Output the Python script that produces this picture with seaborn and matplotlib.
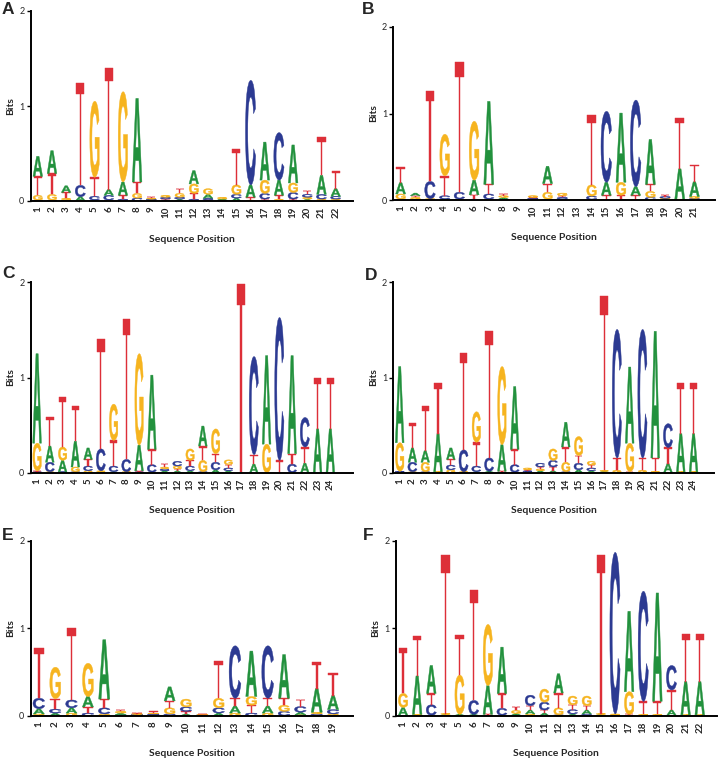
import numpy as np
import pandas as pd
import matplotlib
matplotlib.use("Agg")
from matplotlib import pyplot as plt
from matplotlib.textpath import TextPath
from matplotlib.patches import PathPatch
from matplotlib.font_manager import FontProperties
from matplotlib.transforms import Affine2D
import seaborn as sns

sns.set_style("ticks")
plt.rcParams['font.family'] = ['Lato', 'DejaVu Sans']

# information content (bits) of each base at each position, read off the logos
# panel A, 22 positions
pA_A = [0.21, 0.24, 0.07, 0.04, 0.01, 0.06, 0.14, 0.88, 0.01, 0.01, 0.02, 0.14, 0.04, 0.01, 0.03, 0.13, 0.40, 0.16, 0.40, 0.02, 0.20, 0.08]
pA_C = [0.01, 0.01, 0.01, 0.12, 0.04, 0.05, 0.02, 0.03, 0.01, 0.02, 0.02, 0.02, 0.02, 0.005, 0.04, 1.10, 0.06, 0.50, 0.07, 0.03, 0.05, 0.03]
pA_G = [0.05, 0.06, 0.02, 0.005, 0.80, 0.01, 0.95, 0.05, 0.01, 0.02, 0.04, 0.10, 0.06, 0.02, 0.10, 0.01, 0.14, 0.02, 0.10, 0.02, 0.02, 0.02]
pA_T = [0.20, 0.22, 0.06, 1.08, 0.20, 1.28, 0.04, 0.12, 0.01, 0.01, 0.05, 0.06, 0.01, 0.005, 0.38, 0.03, 0.02, 0.04, 0.02, 0.04, 0.40, 0.19]

# panel B, 21 positions
pB_A = [0.13, 0.03, 0.005, 0.01, 0.005, 0.17, 0.96, 0.02, 0.0, 0.01, 0.20, 0.01, 0.0, 0.005, 0.15, 0.80, 0.10, 0.52, 0.01, 0.35, 0.17]
pB_C = [0.01, 0.01, 0.20, 0.04, 0.08, 0.01, 0.06, 0.01, 0.0, 0.01, 0.01, 0.02, 0.0, 0.04, 0.82, 0.005, 1.00, 0.03, 0.02, 0.005, 0.02]
pB_G = [0.06, 0.02, 0.01, 0.48, 0.005, 0.68, 0.01, 0.02, 0.0, 0.02, 0.08, 0.03, 0.0, 0.13, 0.005, 0.15, 0.005, 0.07, 0.01, 0.005, 0.02]
pB_T = [0.18, 0.02, 1.05, 0.23, 1.50, 0.05, 0.11, 0.02, 0.0, 0.01, 0.10, 0.02, 0.0, 0.81, 0.05, 0.05, 0.05, 0.08, 0.02, 0.59, 0.20]

# panel C, 24 positions
pC_A = [0.94, 0.17, 0.12, 0.27, 0.12, 0.01, 0.01, 0.005, 0.27, 0.78, 0.02, 0.02, 0.02, 0.21, 0.03, 0.02, 0.0, 0.09, 0.93, 0.0, 1.03, 0.10, 0.46, 0.46]
pC_C = [0.01, 0.10, 0.01, 0.01, 0.05, 0.23, 0.06, 0.13, 0.01, 0.08, 0.02, 0.05, 0.05, 0.01, 0.08, 0.03, 0.0, 1.03, 0.0, 1.50, 0.09, 0.31, 0.0, 0.0]
pC_G = [0.29, 0.01, 0.14, 0.05, 0.02, 0.01, 0.38, 0.005, 0.96, 0.005, 0.02, 0.03, 0.12, 0.12, 0.26, 0.05, 0.0, 0.0, 0.30, 0.0, 0.0, 0.0, 0.0, 0.0]
pC_T = [0.01, 0.31, 0.53, 0.37, 0.07, 1.15, 0.27, 1.47, 0.01, 0.16, 0.03, 0.02, 0.06, 0.15, 0.09, 0.035, 1.98, 0.10, 0.0, 0.13, 0.11, 0.17, 0.53, 0.53]

# panel D, 24 positions
pD_A = [0.80, 0.15, 0.12, 0.40, 0.12, 0.005, 0.01, 0.01, 0.28, 0.66, 0.01, 0.02, 0.02, 0.26, 0.03, 0.02, 0.01, 0.005, 0.80, 0.005, 1.33, 0.09, 0.40, 0.40]
pD_C = [0.01, 0.10, 0.01, 0.005, 0.05, 0.23, 0.06, 0.14, 0.005, 0.08, 0.01, 0.04, 0.07, 0.01, 0.07, 0.03, 0.005, 1.35, 0.005, 1.35, 0.005, 0.25, 0.005, 0.005]
pD_G = [0.30, 0.01, 0.10, 0.005, 0.03, 0.005, 0.32, 0.005, 0.82, 0.005, 0.02, 0.02, 0.12, 0.10, 0.20, 0.04, 0.01, 0.02, 0.30, 0.02, 0.01, 0.005, 0.005, 0.005]
pD_T = [0.005, 0.26, 0.47, 0.53, 0.06, 1.02, 0.25, 1.33, 0.01, 0.16, 0.01, 0.02, 0.04, 0.16, 0.08, 0.03, 1.83, 0.13, 0.005, 0.13, 0.14, 0.17, 0.53, 0.53]

# panel E, 19 positions
pE_A = [0.06, 0.03, 0.06, 0.12, 0.68, 0.02, 0.005, 0.01, 0.16, 0.02, 0.005, 0.03, 0.08, 0.52, 0.08, 0.50, 0.03, 0.27, 0.16]
pE_C = [0.12, 0.045, 0.09, 0.03, 0.07, 0.01, 0.01, 0.01, 0.02, 0.05, 0.005, 0.06, 0.60, 0.03, 0.60, 0.05, 0.065, 0.02, 0.05]
pE_G = [0.02, 0.36, 0.03, 0.38, 0.02, 0.02, 0.01, 0.01, 0.07, 0.09, 0.005, 0.11, 0.03, 0.10, 0.03, 0.07, 0.01, 0.02, 0.02]
pE_T = [0.57, 0.12, 0.82, 0.07, 0.10, 0.02, 0.01, 0.02, 0.08, 0.03, 0.01, 0.43, 0.09, 0.09, 0.09, 0.08, 0.08, 0.31, 0.26]

# panel F, 22 positions
pF_A = [0.09, 0.44, 0.32, 0.01, 0.01, 0.01, 0.33, 0.53, 0.02, 0.045, 0.03, 0.22, 0.02, 0.045, 0.01, 0.005, 0.92, 0.005, 1.24, 0.06, 0.38, 0.38]
pF_C = [0.005, 0.005, 0.12, 0.005, 0.005, 0.16, 0.005, 0.08, 0.005, 0.12, 0.09, 0.01, 0.05, 0.02, 0.005, 1.85, 0.005, 1.26, 0.005, 0.28, 0.005, 0.005]
pF_G = [0.16, 0.01, 0.005, 0.01, 0.45, 0.005, 0.70, 0.005, 0.035, 0.02, 0.15, 0.08, 0.10, 0.11, 0.01, 0.01, 0.26, 0.01, 0.01, 0.005, 0.005, 0.005]
pF_T = [0.52, 0.46, 0.13, 1.81, 0.46, 1.26, 0.01, 0.17, 0.04, 0.05, 0.035, 0.17, 0.055, 0.05, 1.81, 0.005, 0.01, 0.15, 0.15, 0.23, 0.54, 0.54]

panel_labels = ['A', 'B', 'C', 'D', 'E', 'F']

# letter colours and glyph widths (fraction of one position)
colors = {'A': '#22913d', 'C': '#2c3a92', 'G': '#f6b41f', 'T': '#dd2f38'}
widths = {'A': 0.68, 'C': 0.72, 'G': 0.66, 'T': 0.58}
weights = {'A': 'bold', 'C': 'bold', 'G': 'bold', 'T': 'normal'}

W, H = 720, 762

# axes boxes in pixels: x of y-axis, x end of x-axis, y of "2", y of "0", xlim end
layout = [
    (30.7, 352.7, 11.0, 201.0, 23.2),
    (393.3, 715.0, 27.0, 200.0, 22.4),
    (30.7, 353.3, 282.3, 472.7, 25.8),
    (393.3, 714.0, 282.3, 472.7, 25.6),
    (30.7, 352.7, 541.0, 715.7, 20.2),
    (396.0, 716.7, 541.0, 715.7, 23.2),
]
# panel letter positions in pixels
label_xy = [(2, 10), (362, 10), (2, 274), (365, 276), (2, 536), (363, 536)]

glyphs = {}
for b in 'ACGT':
    p = TextPath((0, 0), b, size=1, prop=FontProperties(family='Liberation Sans', weight=weights[b]))
    glyphs[b] = (p, p.get_extents())


def draw_letter(ax, b, x, y0, h):
    if h <= 0:
        return
    path, ext = glyphs[b]
    w = widths[b]
    tr = Affine2D().translate(-ext.x0, -ext.y0).scale(w / ext.width, h / ext.height).translate(x - w / 2, y0)
    ax.add_patch(PathPatch(tr.transform_path(path), facecolor=colors[b], edgecolor=colors[b], lw=0.3))


def draw_logo(ax, df):
    for pos, row in df.iterrows():
        y = 0
        for b, h in row.sort_values(kind='stable').items():
            draw_letter(ax, b, pos, y, h)
            y += h


panels = [
    (pA_A, pA_C, pA_G, pA_T),
    (pB_A, pB_C, pB_G, pB_T),
    (pC_A, pC_C, pC_G, pC_T),
    (pD_A, pD_C, pD_G, pD_T),
    (pE_A, pE_C, pE_G, pE_T),
    (pF_A, pF_C, pF_G, pF_T),
]

fig = plt.figure(figsize=(W / 100, H / 100), dpi=100)

for i, (a, c, g, t) in enumerate(panels):
    n = len(a)
    df = pd.DataFrame({'A': a, 'C': c, 'G': g, 'T': t}, index=np.arange(1, n + 1))
    x0, x1, ytop, yzero, xend = layout[i]
    ax = fig.add_axes([x0 / W, 1 - yzero / H, (x1 - x0) / W, (yzero - ytop) / H])
    draw_logo(ax, df)
    ax.set_xlim(0.5, xend)
    ax.set_ylim(0, 2)
    sns.despine(ax=ax)
    for s in ['left', 'bottom']:
        ax.spines[s].set_linewidth(1.4)
        ax.spines[s].set_color('black')
    ax.set_yticks([0, 1, 2])
    ax.set_yticklabels(['0', '1', '2'], fontsize=6.5)
    ax.tick_params(axis='y', length=3, width=1, pad=1.5, color='black')
    ax.set_xticks(df.index)
    ax.set_xticklabels([str(p) for p in df.index], rotation=90, fontsize=7, fontweight='bold')
    ax.tick_params(axis='x', length=0, pad=4)
    ax.set_ylabel('Bits', fontsize=7.5, fontweight='bold')
    ax.yaxis.label.set_va('center')
    ax.yaxis.set_label_coords(-20 / (x1 - x0), 0.5)
    ax.set_xlabel('Sequence Position', fontsize=7.5, fontweight='bold')
    ax.xaxis.label.set_va('center')
    ax.xaxis.set_label_coords(0.5, -38 / (yzero - ytop))
    lx, ly = label_xy[i]
    fig.text(lx / W, 1 - ly / H, panel_labels[i], fontsize=12.5, fontweight='bold',
             family=['Liberation Sans', 'DejaVu Sans'], ha='left', va='center')

fig.savefig('out.png', dpi=100)
